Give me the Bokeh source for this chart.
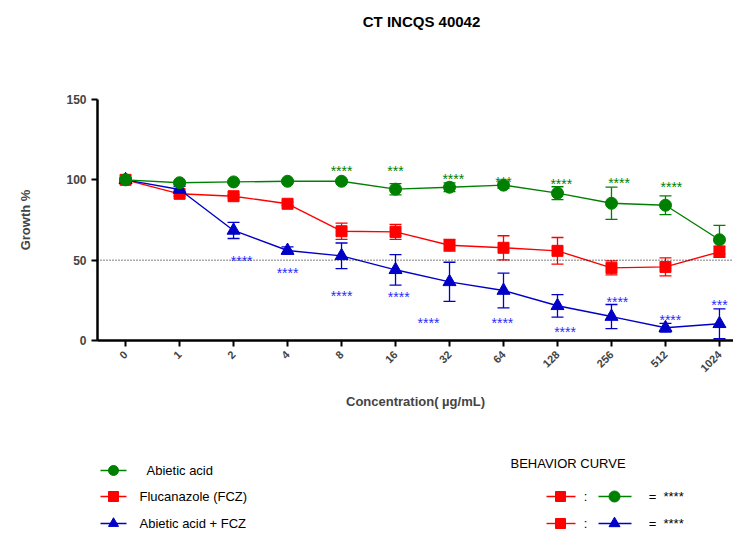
import math
from bokeh.plotting import figure
from bokeh.models import ColumnDataSource, Whisker, Span, Range1d, FixedTicker, TeeHead
from bokeh.layouts import column
from bokeh.embed import file_html
from bokeh.resources import INLINE
from bokeh.core.properties import value

# ---------------- data ----------------
concentrations = ["0", "1", "2", "4", "8", "16", "32", "64", "128", "256", "512", "1024"]
positions = list(range(len(concentrations)))

abietic = [100, 98.2, 98.7, 99.1, 99.1, 94.2, 95.4, 96.7, 91.7, 85.4, 84.2, 62.7]
abietic_err = [0.5, 1.0, 0.8, 0.8, 0.8, 3.5, 2.7, 2.0, 4.0, 10.0, 5.8, 9.0]

fcz = [100, 91.3, 89.8, 85.1, 68.0, 67.6, 59.3, 57.7, 55.8, 45.2, 45.8, 55.2]
fcz_err = [1.0, 1.5, 1.0, 1.0, 5.0, 4.6, 3.7, 7.5, 8.3, 4.3, 5.6, 3.5]

combo = [100, 94.0, 68.5, 56.0, 52.7, 44.0, 36.5, 31.1, 21.6, 14.9, 7.9, 10.4]
combo_err = [0.5, 2.0, 5.0, 2.3, 8.0, 9.5, 12.2, 10.8, 7.0, 7.5, 2.7, 9.3]

# significance annotations (x as category index, y in % units)
green_star_x = [4.0, 5.0, 6.07, 7.0, 8.07, 9.14, 10.11]
green_star_y = [107.5, 107.5, 102.5, 100.4, 99.1, 100.0, 97.5]
green_star_txt = ["****", "***", "****", "***", "****", "****", "****"]

blue_star_x = [2.15, 3.0, 4.0, 5.06, 5.61, 6.98, 8.14, 9.11, 10.09, 11.0]
blue_star_y = [51.5, 43.6, 29.4, 29.1, 12.9, 12.9, 7.3, 25.9, 14.9, 23.8]
blue_star_txt = ["****"] * 9 + ["***"]

title_text = "CT INCQS 40042"
legend_names = ["Abietic acid", "Flucanazole (FCZ)", "Abietic acid  + FCZ"]

GREEN = "#008000"
RED = "#ff0000"
BLUE = "#0000c8"
BLUE_STAR = "#2a2aff"
FONT = "Liberation Sans"


def blank(height, y0, y1):
    f = figure(width=733, height=height, x_range=Range1d(97, 733), y_range=Range1d(y1, y0),
               output_backend="svg", toolbar_location=None,
               min_border_left=97, min_border_right=0, min_border_top=0, min_border_bottom=0)
    f.axis.visible = False
    f.xgrid.visible = False
    f.ygrid.visible = False
    f.outline_line_color = None
    return f


# ---------------- title panel ----------------
tp = blank(40, 0, 40)
tp.text(x=[421], y=[21], text=[title_text], text_font=value(FONT), text_font_style="bold",
        text_font_size="15px", text_align="center", text_baseline="middle", text_color="black")

# ---------------- main chart ----------------
p = figure(width=733, height=398, x_range=Range1d(-0.52, 11.26), y_range=Range1d(0, 150),
           output_backend="svg", toolbar_location=None,
           min_border_left=97, min_border_right=0, min_border_top=59, min_border_bottom=98)
p.outline_line_color = None
p.xgrid.visible = False
p.ygrid.visible = False

for ax in (p.xaxis[0], p.yaxis[0]):
    ax.axis_line_width = 2.5
    ax.axis_line_color = "black"
    ax.major_tick_line_width = 2
    ax.major_tick_in = 0
    ax.major_tick_out = 6
    ax.minor_tick_line_color = None
    ax.major_label_text_font = FONT
    ax.major_label_text_font_style = "bold"
    ax.axis_label_text_font = FONT
    ax.axis_label_text_font_style = "bold"
    ax.axis_label_text_font_size = "13px"

p.xaxis.ticker = FixedTicker(ticks=positions)
p.xaxis.major_label_overrides = {i: c for i, c in enumerate(concentrations)}
p.xaxis.major_label_orientation = math.pi / 4
p.xaxis.major_label_text_font_size = "11px"
p.xaxis.major_label_standoff = 6
p.xaxis.axis_label = "Concentration( µg/mL)"
p.xaxis.axis_label_standoff = 16

p.yaxis.ticker = FixedTicker(ticks=[0, 50, 100, 150])
p.yaxis.major_label_text_font_size = "12px"
p.yaxis.major_label_standoff = 5
p.yaxis.axis_label = "Growth %"
p.yaxis.axis_label_standoff = 30

p.add_layout(Span(location=50, dimension="width", line_color="black",
                  line_dash="1 2", line_width=1))


def series(vals, errs, color, marker, size):
    src = ColumnDataSource(dict(x=positions, y=vals,
                                upper=[v + e for v, e in zip(vals, errs)],
                                lower=[v - e for v, e in zip(vals, errs)]))
    w = Whisker(base="x", upper="upper", lower="lower", source=src, line_color=color,
                line_width=1.3, level="underlay",
                upper_head=TeeHead(size=12, line_color=color, line_width=1.3),
                lower_head=TeeHead(size=12, line_color=color, line_width=1.3))
    p.add_layout(w)
    p.line("x", "y", source=src, line_color=color, line_width=1.4)
    p.scatter("x", "y", source=src, marker=marker, size=size, fill_color=color, line_color=color)


series(fcz, fcz_err, RED, "square", 11)
series(combo, combo_err, BLUE, "triangle", 13)
series(abietic, abietic_err, GREEN, "circle", 12)

p.text(x=green_star_x, y=green_star_y, text=green_star_txt, text_color=GREEN,
       text_font=value(FONT), text_font_size="14px", text_align="center",
       text_baseline="alphabetic", y_offset=3)
p.text(x=blue_star_x, y=blue_star_y, text=blue_star_txt, text_color=BLUE_STAR,
       text_font=value(FONT), text_font_size="14px", text_align="center",
       text_baseline="alphabetic", y_offset=3)

# ---------------- legend panel (page pixel coordinates) ----------------
leg = blank(95, 438, 533)

legend_colors = [GREEN, RED, BLUE]
legend_markers = ["circle", "square", "triangle"]
row_y = [470, 496, 523]
text_x = [146, 139, 139]

for name, col, mk, yy, tx in zip(legend_names, legend_colors, legend_markers, row_y, text_x):
    leg.segment(x0=[100], y0=[yy], x1=[126], y1=[yy], line_color=col, line_width=1.4)
    leg.scatter(x=[113], y=[yy], marker=mk, size=10, fill_color=col, line_color=col)
    leg.text(x=[tx], y=[yy], text=[name], text_font=value(FONT), text_font_size="13px",
             text_baseline="middle", text_color="black")

leg.text(x=[510], y=[463], text=["BEHAVIOR CURVE"], text_font=value(FONT),
         text_font_size="13px", text_baseline="middle", text_color="black")

pairs = [(GREEN, "circle"), (BLUE, "triangle")]
for (col, mk), yy in zip(pairs, [496, 523]):
    leg.segment(x0=[546], y0=[yy], x1=[575], y1=[yy], line_color=RED, line_width=1.4)
    leg.scatter(x=[560], y=[yy], marker="square", size=10, fill_color=RED, line_color=RED)
    leg.text(x=[585], y=[yy], text=[":"], text_font=value(FONT), text_font_size="13px",
             text_baseline="middle", text_align="center")
    leg.segment(x0=[598], y0=[yy], x1=[631], y1=[yy], line_color=col, line_width=1.4)
    leg.scatter(x=[614], y=[yy], marker=mk, size=11, fill_color=col, line_color=col)
    leg.text(x=[652], y=[yy], text=["="], text_font=value(FONT), text_font_size="13px",
             text_baseline="middle", text_align="center")
    leg.text(x=[663], y=[yy], text=["****"], text_font=value(FONT), text_font_size="13px",
             text_baseline="alphabetic", y_offset=0)

layout = column(tp, p, leg)
open("out.html", "w").write(file_html(layout, INLINE))
